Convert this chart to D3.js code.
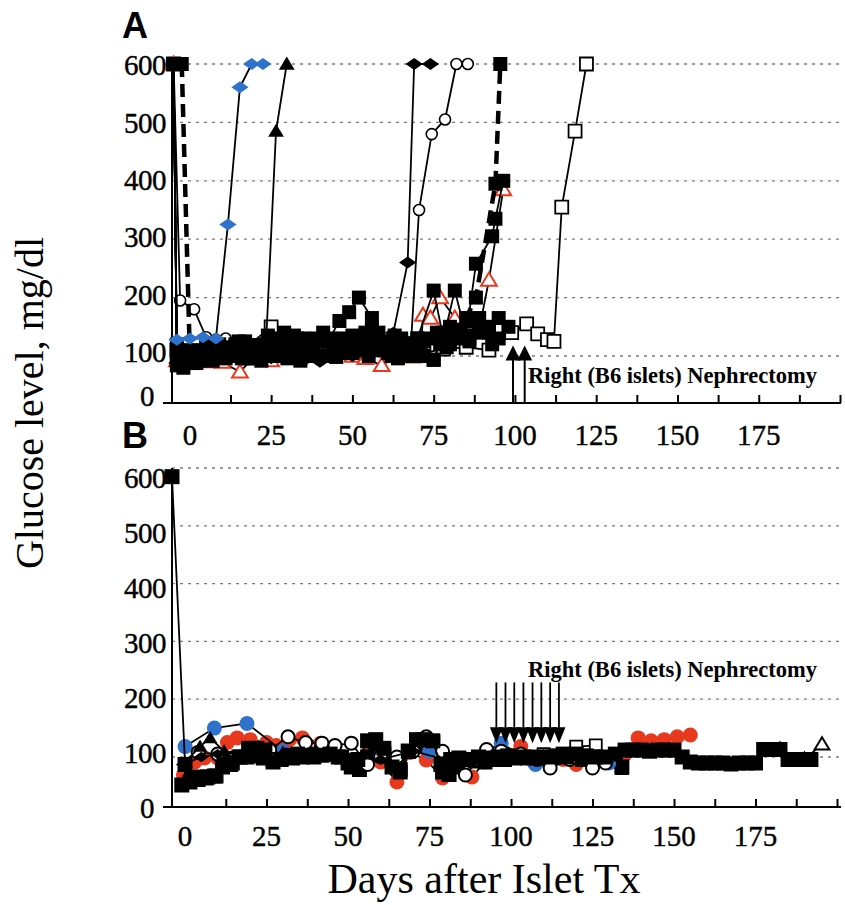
<!DOCTYPE html>
<html>
<head>
<meta charset="utf-8">
<script src="https://cdn.jsdelivr.net/npm/d3@7"></script>
<style>
body{margin:0;background:#fff;}
svg{display:block;}
</style>
</head>
<body>
<div id="Main_Part"></div>
<script>
// ---------- data : [day after islet Tx, glucose mg/dl] ----------
// panel A
var A_FilledSquare1 = [[-5,600],[-4,80],[-1,95],[2,100],[5,105],[8,100],[11,110],[14,115],[17,110],[20,118],[23,120],[26,130],[29,125],[32,135],[35,120],[38,115],[41,125],[44,120],[47,130],[50,135],[53,130],[56,128],[59,125],[62,120],[65,125],[68,122],[70,130],[75,212],[78,130],[81.5,212],[85,135],[88,258],[93,305],[94,335],[96.4,400]];
var A_FilledSquare2 = [[-2.5,600],[0,100],[5,95],[10,100],[15,105],[20,95],[25,100],[30,105],[35,110],[40,100],[45,110],[50,105],[55,100],[60,115],[65,100],[70,110],[75,92],[80,120],[85,165],[88,200],[94,395],[95.5,600]];
var A_FilledSquare3 = [[-5,600],[-4,90],[-2,75],[1,100],[4,110],[7,90],[10,115],[13,105],[16,95],[19,110],[22,90],[25,115],[28,100],[31,120],[34,90],[37,118],[40,125],[43,130],[46,160],[49,175],[52,200],[56,165],[58,140],[61,105],[64,95],[67,120],[70,130],[72,100],[75,92],[78,140],[80,150],[83,130],[86,160],[89,165],[92,150],[95,165],[98,150]];
var A_FilledSquare4 = [[-5,600],[-4,100],[0,110],[3,90],[6,95],[9,120],[12,100],[15,125],[18,95],[21,105],[24,135],[27,110],[30,95],[33,130],[36,105],[39,130],[42,100],[45,98],[48,115],[51,120],[54,140],[57,110],[60,125],[63,135],[66,115],[69,100],[72,125],[76,140],[79,115],[82,135],[86,125],[90,140],[93,120]];
var A_FilledSquare5 = [[-5,600],[-4,120],[-1,105],[2,85],[5,120],[8,110],[11,95],[14,120],[17,125],[20,100],[23,115],[26,105],[29,140],[32,110],[35,130],[38,100],[41,140],[44,110],[47,105],[50,125],[53,110],[56,145],[59,115],[62,100],[65,130],[68,110],[71,115],[74,130],[77,120],[80,135],[83,145],[86,130],[89,150],[92,140],[95,130]];
var A_BlackDiamond = [[-5,600],[-4,85],[0,90],[5,95],[10,100],[15,95],[20,100],[25,95],[30,100],[35,90],[40,88],[45,95],[50,100],[55,110],[60,120],[62.6,140],[67,260],[69,600],[74,600]];
var A_OpenCircle = [[-5,600],[-3,195],[1.3,180],[5,132],[8,128],[11,130],[15,125],[20,120],[25,115],[30,112],[35,110],[40,115],[45,120],[50,115],[55,118],[60,120],[65,118],[68,120],[70.5,350],[74.4,480],[78.5,505],[82,600],[85.5,600]];
var A_BlackTriangle = [[-5,600],[-4,95],[0,100],[5,105],[10,108],[15,110],[20,115],[23.5,130],[26.5,485],[29.8,600]];
var A_OpenSquare = [[-5,600],[-4,110],[0,105],[6,110],[12,115],[18,118],[25,150],[30,130],[36,120],[42,118],[48,115],[54,112],[60,110],[66,108],[72,105],[78,112],[85,115],[92,110],[99,140],[103.6,155],[107,138],[110,128],[112,125],[114.4,355],[118.5,485],[122,600]];
var A_RedTriangle = [[-5,600],[-4,90],[0,85],[5,88],[10,87],[15.4,66],[19.4,95],[25,90],[30,105],[35,110],[40,112],[45,108],[50,100],[54,95],[59,80],[64,100],[68.6,98],[71,100],[71.7,170],[74,165],[77,200],[81.5,165],[85,145],[89,145],[92,230],[96.4,385]];
var A_BlueDiamond = [[-4,128],[0,130],[4,132],[8,130],[11.7,325],[15.4,560],[19,600],[22.5,600]];
var A_NephrectomyDays = [99.4, 103];
var A_ArrowTip = 118;

// panel B
var B_FilledSquare2 = [[-1,44],[1.5,50],[4,55],[6.5,58],[9,62],[11.5,80],[14,85],[16.5,100],[19,100],[21.5,102],[24,98],[27,95],[30,100],[33,98],[36,100],[39,105],[42,110],[45,105],[48,100],[51,80],[53.5,75],[56,100],[58.5,110],[61,105],[63.5,95],[66,75],[68.5,110],[71,120],[73.5,125],[76,125],[78.5,85],[81,65],[83.5,80],[86,95],[89,92],[92,90],[95,95],[98,95],[101,98],[104,100],[107,100],[110,95],[113,100],[116,105],[119,100],[122,95],[125,100],[128,95],[131,92],[134,80]];
var B_RedCircle = [[-0.5,64],[3,90],[6,98],[10,98],[13,125],[16,133],[20,130],[25,125],[28,120],[32,130],[36,133],[41.6,124],[46,118],[50.6,90],[56.7,110],[60,90],[65,50],[69,108],[74,94],[79,58],[84,85],[88,60],[92,90],[97,100],[103,118],[107,90],[112,100],[116,95],[120,85],[125,100],[130,95],[135,105],[139,133],[143,128],[147,130],[151,135],[155,138]];
var B_BlueCircle = [[0,118],[9,150],[19,158],[30,110],[45,105],[60,100],[75,110],[88,95],[97,124],[107.5,85],[118,100],[130,88]];
var B_OpenCircle = [[4,108],[10,105],[20,108],[26,112],[31.6,135],[37,125],[42,124],[46,120],[51,124],[56,85],[60,100],[65,100],[70,110],[74,135],[79,110],[82,95],[86,64],[92.5,113],[97,110],[103,105],[108,95],[112,78],[118,95],[125,78],[129,88]];
var B_FilledSquare1 = [[-4,585],[0,85],[2,58],[4.5,60],[7,60],[9.5,62],[12,85],[14.5,88],[17,100],[19.5,115],[22,115],[24.5,112],[27,90],[29.5,95],[32,103],[34.5,105],[37,103],[39.5,100],[42,103],[44.5,105],[47,100],[50,88],[53,95],[56,128],[58.5,130],[61,115],[63.5,80],[66,70],[68.5,110],[71,130],[73.5,130],[76,128],[79,70],[81.5,95],[84,98],[87,95],[90,100],[93,98],[96,100],[99,102],[102,100],[105,98],[108,98],[111,100],[114,102],[117,100],[120,105],[123,102],[126,100],[129,100],[132,105],[135,112],[137.5,112],[140,112],[142.5,110],[145,112],[147.5,112],[150,112],[152.5,100],[155,90],[157.5,88],[160,88],[162.5,88],[165,88],[167.5,86],[170,88],[172.5,88],[175,88],[177.5,113],[180,113],[182.5,113],[185,95],[187.5,95],[190,95],[192,95]];
var B_BlackDiamond = [[-0.5,85],[5,100],[10,105],[20,110],[30,105],[40,110],[50,100],[60,95],[70,110],[80,95],[90,95],[100,100],[110,105],[120,100]];
var B_BlackTriangle = [[0,90],[4.6,118],[7.7,133],[12,110],[20,105],[30,108]];
var B_OpenSquare = [[100,100],[110,105],[120,118],[126,120],[134,78]];
var B_OpenTriangle = [[182.5,113],[190,95],[195.4,122]];
var B_NephrectomyDays = [95.5, 98.3, 101, 103.8, 106.6, 109.3, 112, 114.7];
var B_ArrowTop = 229;
var B_ArrowTip = 124;

var GridValues = [100,200,300,400,500,600];
var YTickValues = [0,100,200,300,400,500,600];
var XTickValues = d3.range(12.5, 200.1, 12.5);
var XLabelValues = [0,25,50,75,100,125,150,175];

// ---------- set up ----------
var SerifFont = "Liberation Serif, Times New Roman, serif";
var SansFont = "Liberation Sans, Arial, sans-serif";
var RedColor = "#e8391f";
var BlueColor = "#2f72cc";

var svg = d3.select('#Main_Part')
	.append("svg")
	.attr("width",845)
	.attr("height",905);

var xA = d3.scaleLinear().domain([-5.5,200]).range([172,840]);
var yA = d3.scaleLinear().domain([0,100,600]).range([403,356,64]);
var yLabelA = d3.scaleLinear().domain([0,100,600]).range([396,352,65]);
var xB = d3.scaleLinear().domain([-4,200]).range([172,837]);
var yB = d3.scaleLinear().domain([0,100,600]).range([807,757,468]);
var yLabelB = d3.scaleLinear().domain([0,600]).range([808,478]);

function MarkerPath(shape,s)
{
	if(shape=="square")
		return "M"+(-s)+","+(-s)+"h"+(2*s)+"v"+(2*s)+"h"+(-2*s)+"Z";
	if(shape=="diamond")
		return "M0,"+(-s*0.8)+"L"+(s*1.15)+",0L0,"+(s*0.8)+"L"+(-s*1.15)+",0Z";
	if(shape=="triangle")
		return "M0,"+(-s)+"L"+(s*1.05)+","+(s*0.75)+"L"+(-s*1.05)+","+(s*0.75)+"Z";
	// circle
	return "M"+s+",0A"+s+","+s+" 0 1,1 "+(-s)+",0A"+s+","+s+" 0 1,1 "+s+",0Z";
}

function DrawSeries(Panel,Data,xs,ys,opt)
{
	var LineMaker = d3.line()
		.x(function(d){ return xs(d[0]); })
		.y(function(d){ return ys(d[1]); });

	Panel.append("path")
		.attr("d",LineMaker(Data))
		.attr("fill","none")
		.attr("stroke","black")
		.attr("stroke-width",opt.lw || 1.8)
		.attr("stroke-dasharray",opt.dash || null);

	Panel.selectAll(null)
		.data(Data)
		.enter()
		.append("path")
		.attr("transform",function(d){ return "translate("+xs(d[0])+","+ys(d[1])+")"; })
		.attr("d",MarkerPath(opt.shape,opt.size))
		.attr("fill",opt.fill)
		.attr("stroke",opt.stroke || "none")
		.attr("stroke-width",opt.sw || 0);
	return null;
}

function DrawFrame(xs,ys,yLabel,LabelBaseline,Top)
{
	var Frame = svg.append("g");

	Frame.selectAll(null)
		.data(GridValues)
		.enter()
		.append("line")
		.attr("x1",xs.range()[0])
		.attr("x2",840)
		.attr("y1",function(d){ return ys(d); })
		.attr("y2",function(d){ return ys(d); })
		.attr("stroke","#8a7575")
		.attr("stroke-width",1.3)
		.attr("stroke-dasharray","3,5");

	var Base = ys(0);

	// inward tick marks
	Frame.append("g")
		.attr("transform","translate(0,"+Base+")")
		.call(d3.axisBottom(xs).tickValues(XTickValues).tickSizeInner(-8).tickSizeOuter(0).tickFormat(""))
		.call(function(g){ g.select(".domain").remove(); })
		.selectAll("line").attr("stroke","black").attr("stroke-width",2);

	// day labels
	Frame.selectAll(null)
		.data(XLabelValues)
		.enter()
		.append("text")
		.attr("x",function(d){ return xs(d); })
		.attr("y",LabelBaseline)
		.attr("text-anchor","middle")
		.attr("font-family",SerifFont)
		.attr("font-size","29px")
		.attr("fill","black")
		.attr("stroke","black")
		.attr("stroke-width",0.4)
		.text(function(d){ return d; });

	Frame.append("line")
		.attr("x1",163).attr("x2",841)
		.attr("y1",Base).attr("y2",Base)
		.attr("stroke","black").attr("stroke-width",2.2);

	Frame.append("line")
		.attr("x1",172).attr("x2",172)
		.attr("y1",Top).attr("y2",Base)
		.attr("stroke","black").attr("stroke-width",2);

	// glucose labels
	Frame.selectAll(null)
		.data(YTickValues)
		.enter()
		.append("text")
		.attr("x",function(d){ return d==0 ? 154 : 166; })
		.attr("y",function(d){ return yLabel(d); })
		.attr("dy","0.35em")
		.attr("text-anchor","end")
		.attr("font-family",SerifFont)
		.attr("font-size","29px")
		.attr("letter-spacing","-0.5px")
		.attr("fill","black")
		.attr("stroke","black")
		.attr("stroke-width",0.4)
		.text(function(d){ return d; });
	return Frame;
}

function UpArrows(Days,xs,ys,TipValue)
{
	var g = svg.append("g");
	Days.forEach(function(d){
		var x = xs(d), tip = ys(TipValue);
		g.append("line").attr("x1",x).attr("x2",x).attr("y1",ys(0)).attr("y2",tip+12)
			.attr("stroke","black").attr("stroke-width",2);
		g.append("path").attr("d","M"+x+","+tip+"L"+(x+7.5)+","+(tip+15)+"L"+(x-7.5)+","+(tip+15)+"Z")
			.attr("fill","black");
	});
	return null;
}

function DownArrows(Days,xs,ys,TopValue,TipValue)
{
	var g = svg.append("g");
	Days.forEach(function(d){
		var x = xs(d), tip = ys(TipValue);
		g.append("line").attr("x1",x).attr("x2",x).attr("y1",ys(TopValue)).attr("y2",tip-10)
			.attr("stroke","black").attr("stroke-width",1.8);
		g.append("path").attr("d","M"+x+","+tip+"L"+(x+6.5)+","+(tip-16)+"L"+(x-6.5)+","+(tip-16)+"Z")
			.attr("fill","black");
	});
	return null;
}

function NephrectomyText(x,y)
{
	svg.append("text")
		.attr("x",x).attr("y",y)
		.text("Right (B6 islets) Nephrectomy")
		.attr("font-family",SerifFont)
		.attr("font-weight","bold")
		.attr("font-size","22.5px")
		.attr("fill","black");
	return null;
}

// ---------- panel A ----------
DrawFrame(xA,yA,yLabelA,445,60);
var PanelA = svg.append("g");
DrawSeries(PanelA,A_OpenSquare,xA,yA,{shape:"square",size:6.5,fill:"white",stroke:"black",sw:1.8});
DrawSeries(PanelA,A_OpenCircle,xA,yA,{shape:"circle",size:5.5,fill:"white",stroke:"black",sw:1.6});
DrawSeries(PanelA,A_RedTriangle,xA,yA,{shape:"triangle",size:7.5,fill:"white",stroke:RedColor,sw:2});
DrawSeries(PanelA,A_FilledSquare5,xA,yA,{shape:"square",size:7,fill:"black"});
DrawSeries(PanelA,A_FilledSquare3,xA,yA,{shape:"square",size:7,fill:"black"});
DrawSeries(PanelA,A_FilledSquare4,xA,yA,{shape:"square",size:7,fill:"black"});
DrawSeries(PanelA,A_FilledSquare2,xA,yA,{shape:"square",size:7,fill:"black",lw:4.5,dash:"13,7"});
DrawSeries(PanelA,A_BlackDiamond,xA,yA,{shape:"diamond",size:7.5,fill:"black"});
DrawSeries(PanelA,A_FilledSquare1,xA,yA,{shape:"square",size:7,fill:"black"});
DrawSeries(PanelA,A_BlackTriangle,xA,yA,{shape:"triangle",size:7.5,fill:"black"});
DrawSeries(PanelA,A_BlueDiamond,xA,yA,{shape:"diamond",size:7.5,fill:BlueColor});
UpArrows(A_NephrectomyDays,xA,yA,A_ArrowTip);
NephrectomyText(528,383);

// ---------- panel B ----------
DrawFrame(xB,yB,yLabelB,846,468);
var PanelB = svg.append("g");
DrawSeries(PanelB,B_OpenTriangle,xB,yB,{shape:"triangle",size:7,fill:"white",stroke:"black",sw:2});
DrawSeries(PanelB,B_OpenSquare,xB,yB,{shape:"square",size:6,fill:"white",stroke:"black",sw:1.8});
DrawSeries(PanelB,B_RedCircle,xB,yB,{shape:"circle",size:7.5,fill:RedColor});
DrawSeries(PanelB,B_FilledSquare2,xB,yB,{shape:"square",size:7.5,fill:"black"});
DrawSeries(PanelB,B_BlueCircle,xB,yB,{shape:"circle",size:7.5,fill:BlueColor});
DrawSeries(PanelB,B_OpenCircle,xB,yB,{shape:"circle",size:6.5,fill:"white",stroke:"black",sw:2});
DrawSeries(PanelB,B_FilledSquare1,xB,yB,{shape:"square",size:7.5,fill:"black"});
DrawSeries(PanelB,B_BlackDiamond,xB,yB,{shape:"diamond",size:6.5,fill:"black"});
DrawSeries(PanelB,B_BlackTriangle,xB,yB,{shape:"triangle",size:7,fill:"black"});
DownArrows(B_NephrectomyDays,xB,yB,B_ArrowTop,B_ArrowTip);
NephrectomyText(528,677);

// ---------- titles ----------
svg.append("text").attr("x",122).attr("y",38).text("A")
	.attr("font-family",SansFont).attr("font-weight","bold").attr("font-size","36px");
svg.append("text").attr("x",122).attr("y",448).text("B")
	.attr("font-family",SansFont).attr("font-weight","bold").attr("font-size","36px");

svg.append("text")
	.attr("transform","translate(43,403) rotate(-90)")
	.attr("text-anchor","middle")
	.attr("font-family",SerifFont)
	.attr("font-size","40px")
	.text("Glucose level, mg/dl");

svg.append("text")
	.attr("x",484).attr("y",893)
	.attr("text-anchor","middle")
	.attr("font-family",SerifFont)
	.attr("font-size","42px")
	.text("Days after Islet Tx");
</script>
</body>
</html>
